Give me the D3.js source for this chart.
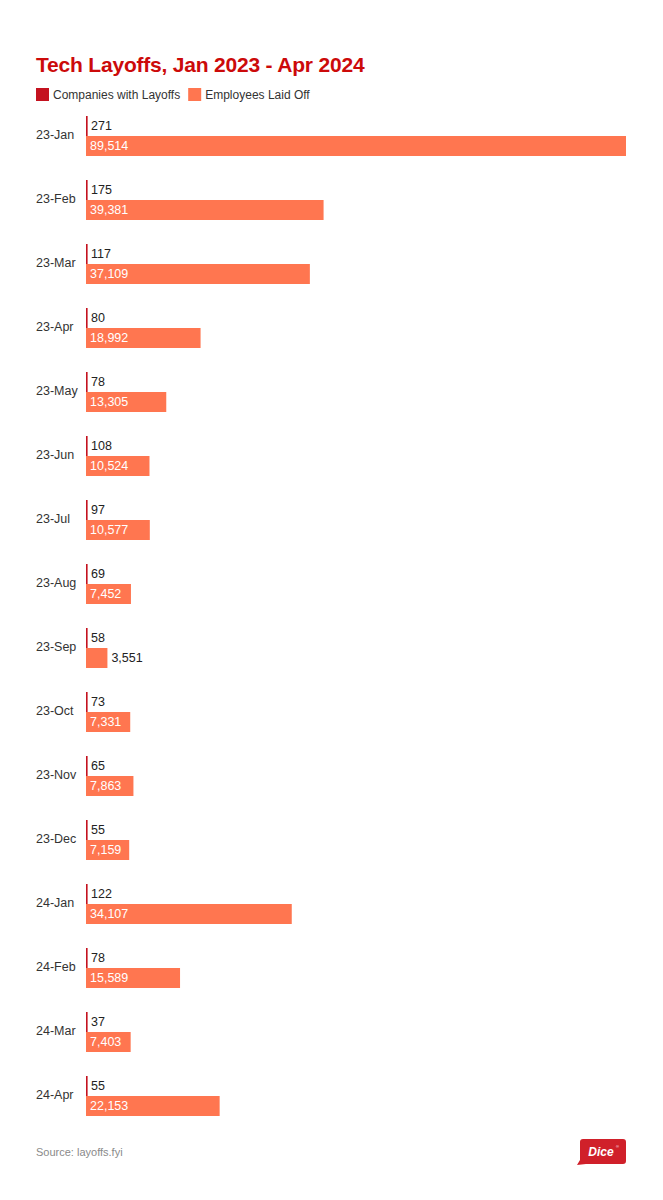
<!DOCTYPE html>
<html>
<head>
<meta charset="utf-8">
<script src="https://cdn.jsdelivr.net/npm/d3@7"></script>
<style>
  body { margin: 0; background: #fff; }
  svg { font-family: "Liberation Sans", Arial, Helvetica, sans-serif; }
</style>
</head>
<body>
<div id="chart"></div>
<script>
var months = ["23-Jan", "23-Feb", "23-Mar", "23-Apr", "23-May", "23-Jun", "23-Jul", "23-Aug",
              "23-Sep", "23-Oct", "23-Nov", "23-Dec", "24-Jan", "24-Feb", "24-Mar", "24-Apr"];
var companies = [271, 175, 117, 80, 78, 108, 97, 69, 58, 73, 65, 55, 122, 78, 37, 55];
var employees = [89514, 39381, 37109, 18992, 13305, 10524, 10577, 7452, 3551, 7331, 7863, 7159, 34107, 15589, 7403, 22153];
var seriesNames = ["Companies with Layoffs", "Employees Laid Off"];
var seriesColors = ["#c4121f", "#ff7650"];

var width = 663, height = 1200;
var fmt = d3.format(",");

var svg = d3.select("#chart").append("svg")
    .attr("width", width)
    .attr("height", height);

// title
svg.append("text")
    .attr("x", 36)
    .attr("y", 72)
    .style("font-size", "21px")
    .style("font-weight", "bold")
    .style("fill", "#cc0a0a")
    .style("letter-spacing", "-0.2px")
    .text("Tech Layoffs, Jan 2023 - Apr 2024");

// legend
var legend = svg.append("g").attr("transform", "translate(36,88)");
var lx = 0;
seriesNames.forEach(function(name, i) {
  var item = legend.append("g").attr("transform", "translate(" + lx + ",0)");
  item.append("rect").attr("width", 13).attr("height", 13).style("fill", seriesColors[i]);
  var t = item.append("text")
      .attr("x", 17)
      .attr("y", 10.5)
      .style("font-size", "12px")
      .style("fill", "#333")
      .text(name);
  lx += 17 + t.node().getComputedTextLength() + 8;
});

var data = months.map(function(m, i) {
  return {month: m, values: [{key: 0, value: companies[i]}, {key: 1, value: employees[i]}]};
});

var x = d3.scaleLinear()
    .domain([0, d3.max(employees)])
    .range([86, 626]);

var y = d3.scaleBand()
    .domain(months)
    .range([104, 1128])
    .paddingInner(0.375)
    .paddingOuter(0.1875);

var y1 = d3.scaleBand()
    .domain([0, 1])
    .range([0, y.bandwidth()]);

// category labels
svg.append("g").selectAll("text")
    .data(months)
  .enter().append("text")
    .attr("x", 36)
    .attr("y", function(d) { return y(d) + y.bandwidth() / 2 - 1; })
    .attr("dy", "0.35em")
    .style("font-size", "12.5px")
    .style("fill", "#333")
    .text(function(d) { return d; });

var row = svg.append("g").selectAll("g")
    .data(data)
  .enter().append("g")
    .attr("transform", function(d) { return "translate(0," + y(d.month) + ")"; });

row.selectAll("rect")
    .data(function(d) { return d.values; })
  .enter().append("rect")
    .attr("x", x(0))
    .attr("y", function(d) { return y1(d.key); })
    .attr("height", y1.bandwidth())
    .attr("width", function(d) { return Math.max(x(d.value) - x(0), 1.6); })
    .style("fill", function(d) { return seriesColors[d.key]; });

row.selectAll("text")
    .data(function(d) { return d.values; })
  .enter().append("text")
    .style("font-size", "12.5px")
    .attr("y", function(d) { return y1(d.key) + y1.bandwidth() / 2; })
    .attr("dy", "0.35em")
    .text(function(d) { return fmt(d.value); })
    .each(function(d) {
      var t = d3.select(this);
      var w = x(d.value) - x(0);
      var tw = this.getComputedTextLength();
      if (d.key === 1 && w > tw + 8) {
        t.attr("x", x(0) + 4).style("fill", "#fff");
      } else if (d.key === 1) {
        t.attr("x", x(d.value) + 4).style("fill", "#222");
      } else {
        t.attr("x", x(0) + 5).style("fill", "#222");
      }
    });

// footer
svg.append("text")
    .attr("x", 36)
    .attr("y", 1156)
    .style("font-size", "11px")
    .style("fill", "#8a8a8a")
    .text("Source: layoffs.fyi");

var logo = svg.append("g").attr("transform", "translate(580,1139)");
logo.append("path")
    .attr("d", "M3,0 H43 Q46,0 46,3 V22 Q46,25 43,25 H6 L-3,26 L0,21 V3 Q0,0 3,0 Z")
    .style("fill", "#d0202a");
logo.append("text")
    .attr("x", 21)
    .attr("y", 17)
    .attr("text-anchor", "middle")
    .style("font-size", "12px")
    .style("font-weight", "bold")
    .style("font-style", "italic")
    .style("fill", "#fff")
    .text("Dice");
logo.append("text")
    .attr("x", 36)
    .attr("y", 9)
    .style("font-size", "4px")
    .style("fill", "#fff")
    .text("®");
</script>
</body>
</html>
